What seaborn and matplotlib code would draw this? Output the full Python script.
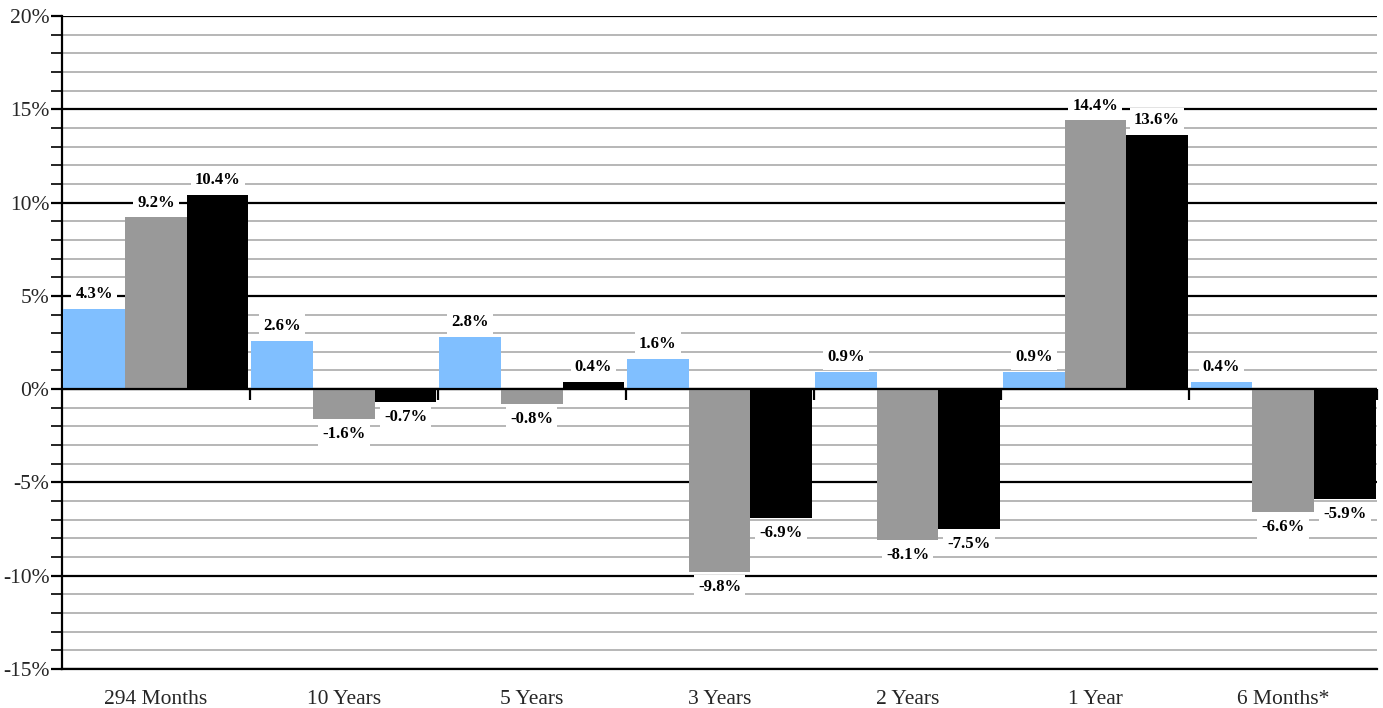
import matplotlib
matplotlib.use("Agg")
import matplotlib.pyplot as plt
import numpy as np
import pandas as pd
import seaborn as sns

# Annualized returns by holding period (percent)
periods = ["294 Months", "10 Years", "5 Years", "3 Years", "2 Years", "1 Year", "6 Months*"]
series_names = ["Fund", "Benchmark", "Index"]
fund_returns = [4.3, 2.6, 2.8, 1.6, 0.9, 0.9, 0.4]
benchmark_returns = [9.2, -1.6, -0.8, -9.8, -8.1, 14.4, -6.6]
index_returns = [10.4, -0.7, 0.4, -6.9, -7.5, 13.6, -5.9]
bar_colors = ["#80BFFF", "#999999", "#000000"]
y_ticks = list(range(-15, 21, 5))

df = pd.DataFrame({
    "period": periods * 3,
    "series": [s for s in series_names for _ in periods],
    "value": fund_returns + benchmark_returns + index_returns,
})

sns.set_theme(style="white")
plt.rcParams["font.family"] = ["Liberation Serif", "DejaVu Serif"]

fig = plt.figure(figsize=(13.83, 7.08), dpi=100)
ax = fig.add_axes([0.0448, 0.0551, 0.9510, 0.9223])

sns.barplot(data=df, x="period", y="value", hue="series", order=periods,
            hue_order=series_names, palette=bar_colors, width=0.985,
            saturation=1, legend=False, ax=ax, zorder=3, linewidth=0)

ymin, ymax = -15, 20
ax.set_ylim(ymin, ymax)
ax.set_xlim(-0.5, len(periods) - 0.5)

# horizontal grid: gray every 1%, black every 5%
ax.set_yticks(y_ticks)
ax.set_yticks(np.arange(ymin, ymax + 1, 1), minor=True)
ax.set_yticklabels([f"{t}%" for t in y_ticks], fontsize=15.5)
ax.grid(which="minor", axis="y", color="#A3A3A3", linewidth=1.1, zorder=0)
ax.grid(which="major", axis="y", color="#000000", linewidth=1.6, zorder=1)
ax.tick_params(axis="y", which="both", direction="out", length=8, width=1.2,
               color="black", left=True, pad=1)
ax.tick_params(axis="y", which="major", length=8, width=1.6)
ax.set_axisbelow(True)

ax.set_xlabel("")
ax.set_ylabel("")
ax.tick_params(axis="x", length=0, labelsize=15.5, pad=15)

for side in ["top", "right"]:
    ax.spines[side].set_visible(False)
ax.spines["left"].set_color("black")
ax.spines["left"].set_linewidth(1.6)
ax.spines["bottom"].set_color("black")
ax.spines["bottom"].set_linewidth(1.6)

# zero line with category divider ticks
ax.axhline(0, color="black", linewidth=1.6, zorder=4)
zero_loc = (0 - ymin) / (ymax - ymin)
sec = ax.secondary_xaxis(zero_loc)
sec.set_xticks(np.arange(0.5, len(periods), 1.0))
sec.tick_params(axis="x", direction="out", length=8, width=1.6, color="black",
                labelbottom=False, labeltop=False, bottom=True, top=False)
sec.spines["bottom"].set_visible(False)
sec.spines["top"].set_visible(False)

# value labels
for container in ax.containers:
    for patch in container:
        h = patch.get_height()
        x = patch.get_x() + patch.get_width() / 2
        offset = 5 if h >= 0 else -5
        ax.annotate(f"{h:.1f}%", (x, h), xytext=(0, offset),
                    textcoords="offset points", ha="center",
                    va="bottom" if h >= 0 else "top",
                    fontsize=12, fontweight="bold", color="black", zorder=6,
                    bbox=dict(boxstyle="square,pad=0.25", facecolor="white",
                              edgecolor="none"))

fig.savefig("out.png", dpi=100)
